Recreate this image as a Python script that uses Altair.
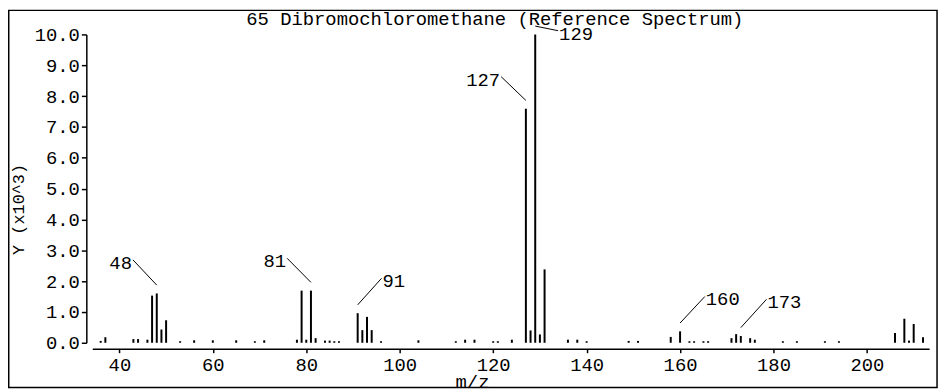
import altair as alt
import pandas as pd

# ---- data (m/z, intensity in x10^3) ----
mz = [36, 37, 43, 44, 46, 47, 48, 49, 50, 53, 56, 60, 65, 69, 71,
      78, 79, 80, 81, 82, 84, 85, 86, 87, 91, 92, 93, 94, 96, 104,
      112, 114, 116, 120, 121, 124, 127, 128, 129, 130, 131, 136, 138, 140,
      149, 151, 158, 160, 162, 163, 165, 166, 171, 172, 173, 175, 176,
      182, 185, 191, 194, 206, 208, 209, 210, 212]
intensity = [0.06, 0.18, 0.12, 0.12, 0.10, 1.53, 1.60, 0.43, 0.73, 0.05, 0.08, 0.08, 0.08, 0.05, 0.08,
             0.10, 1.69, 0.10, 1.69, 0.15, 0.07, 0.07, 0.05, 0.05, 0.96, 0.41, 0.84, 0.41, 0.05, 0.08,
             0.05, 0.10, 0.10, 0.05, 0.05, 0.10, 7.59, 0.40, 10.0, 0.27, 2.38, 0.10, 0.10, 0.05,
             0.06, 0.06, 0.19, 0.37, 0.05, 0.05, 0.05, 0.05, 0.15, 0.28, 0.22, 0.15, 0.10,
             0.05, 0.05, 0.05, 0.05, 0.32, 0.78, 0.07, 0.61, 0.18]

x_ticks = [40, 60, 80, 100, 120, 140, 160, 180, 200]
y_ticks = [0, 1, 2, 3, 4, 5, 6, 7, 8, 9, 10]

label_mz = [48, 81, 91, 127, 129, 160, 173]
label_dx = [-5.1, -5.1, 5.1, -5.3, 4.9, 5.3, 5.5]      # leader line run (m/z units)
label_dy = [0.82, 0.78, 0.86, 0.77, -0.15, 0.86, 0.92]  # leader line rise (x10^3)

TITLE = "65 Dibromochloromethane (Reference Spectrum)"
FONT = "Liberation Mono"
FS = 19

peaks = pd.DataFrame({"mz": mz, "y": intensity})
lookup = dict(zip(mz, intensity))
GAP = 0.27
lab = pd.DataFrame({
    "mz": label_mz,
    "text": [str(m) for m in label_mz],
    "y0": [lookup[m] + GAP for m in label_mz],
    "dx": label_dx,
    "dy": label_dy,
})
lab["x1"] = lab["mz"] + lab["dx"]
lab["y1"] = lab["y0"] + lab["dy"]
lab["side"] = ["left" if d < 0 else "right" for d in label_dx]

W, H = 844, 311
xscale = alt.Scale(domain=[34.2, 213.3], nice=False, zero=False)
yscale = alt.Scale(domain=[0, 10], nice=False, zero=False)

xaxis = alt.Axis(title="m/z", values=x_ticks, format="d", offset=6, tickSize=4,
                 labelPadding=3, grid=False, titleX=383, titleY=39, labelOverlap=False,
                 titleBaseline="alphabetic", titleAlign="center")
yaxis = alt.Axis(title="Y (x10^3)", values=y_ticks, format=".1f", offset=6, tickSize=5,
                 labelPadding=2, grid=False, titleX=-68, titleY=176, labelOverlap=False,
                 titleBaseline="middle", titleAlign="center", titleFontSize=17)

sticks = alt.Chart(peaks).mark_rule(color="black", strokeWidth=2).encode(
    x=alt.X("mz:Q", scale=xscale, axis=xaxis),
    y=alt.Y("y:Q", scale=yscale, axis=yaxis),
    y2=alt.datum(0),
)

leaders = alt.Chart(lab).mark_rule(color="black", strokeWidth=1).encode(
    x=alt.X("mz:Q", scale=xscale, axis=xaxis, title="m/z"),
    y=alt.Y("y0:Q", scale=yscale, axis=yaxis, title="Y (x10^3)"),
    x2="x1:Q",
    y2="y1:Q",
)

text_left = alt.Chart(lab).transform_filter(alt.datum.side == "left").mark_text(
    align="right", baseline="middle", dy=3, dx=-1, font=FONT, fontSize=FS, color="black"
).encode(x=alt.X("x1:Q", scale=xscale, axis=xaxis, title="m/z"),
         y=alt.Y("y1:Q", scale=yscale, axis=yaxis, title="Y (x10^3)"),
         text="text:N")

text_right = alt.Chart(lab).transform_filter(alt.datum.side == "right").mark_text(
    align="left", baseline="middle", dy=3, dx=1, font=FONT, fontSize=FS, color="black"
).encode(x=alt.X("x1:Q", scale=xscale, axis=xaxis, title="m/z"),
         y=alt.Y("y1:Q", scale=yscale, axis=yaxis, title="Y (x10^3)"),
         text="text:N")

one = pd.DataFrame({"f": [0]})
frame = alt.Chart(one).mark_rect(
    filled=False, stroke="black", strokeWidth=1.5, clip=False
).encode(x=alt.value(-84.25), x2=alt.value(852), y=alt.value(-24.25), y2=alt.value(356))

title = alt.Chart(one).mark_text(
    align="center", baseline="alphabetic", font=FONT, fontSize=FS, color="black", text=TITLE
).encode(x=alt.value(406), y=alt.value(-10))

chart = alt.layer(frame, sticks, leaders, text_left, text_right, title).properties(
    width=W, height=H,
    background="white",
    autosize=alt.AutoSizeParams(type="none"),
    padding={"left": 85, "top": 25, "right": 13, "bottom": 48},
).configure_view(stroke=None).configure_axis(
    domainColor="black", tickColor="black", labelColor="black", titleColor="black",
    domainWidth=1.5, tickWidth=1.5, labelFont=FONT, labelFontSize=FS, titleFont=FONT,
    titleFontSize=FS, titleFontWeight="normal", labelFontWeight="normal",
)

chart.save("out.html", embed_options={"renderer": "svg", "actions": False})
